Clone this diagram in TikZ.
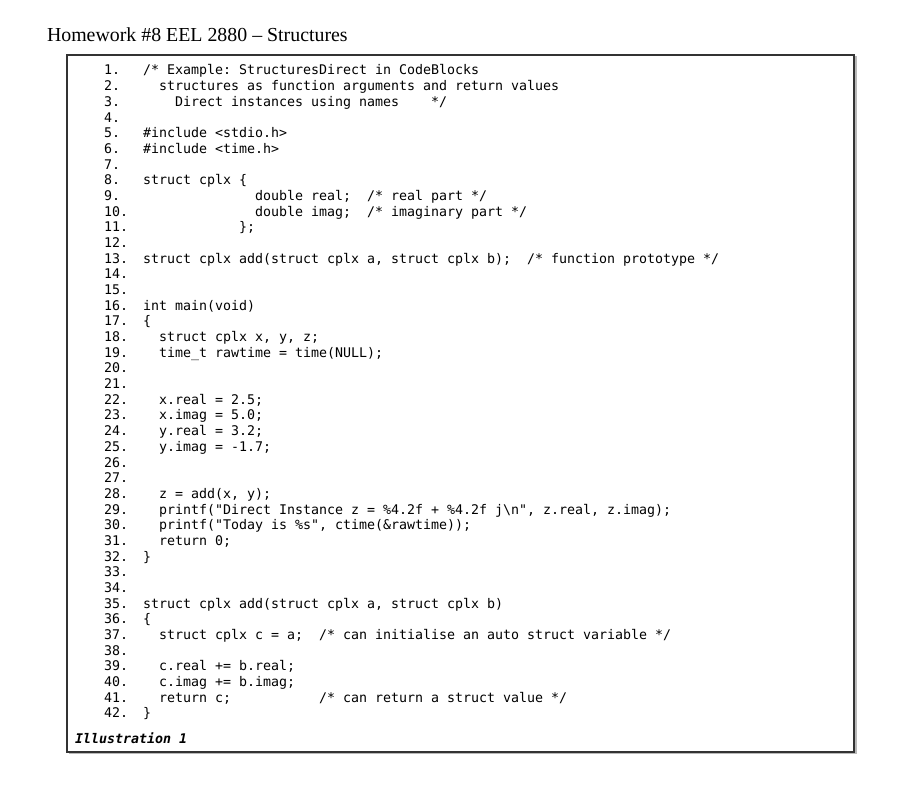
\documentclass[tikz,border=0pt]{standalone}
\usepackage{fontspec}
\setmainfont{Liberation Serif}
\setmonofont{DejaVu Sans Mono}
\usetikzlibrary{positioning}
\tikzset{
    x=0.75pt, y=-0.75pt, % one unit is one pixel of the page, y runs downwards
    every node/.style={inner sep=0pt, outer sep=0pt},
    codeFont/.style={font=\ttfamily\fontsize{9.97}{12}\selectfont},
}

\begin{document}
\begin{tikzpicture}[
                    lineNum/.style={codeFont, anchor=base west},
                    codeLine/.style={codeFont, anchor=base west},
                    titleText/.style={font=\fontsize{14.9}{17}\selectfont, anchor=base west},
                    boxLine/.style={draw=black!80, line width=1pt},
                ]
    \useasboundingbox (0,0) rectangle (910,791);
    \node[titleText] (title) at (47,42) {Homework \#8 EEL 2880 -- Structures};
    \draw[gray!55, line width=1pt] (856,56.5) -- (856,753.5) -- (68.5,753.5); % shadow
    \draw[boxLine, fill=white] (67,55) rectangle (854,752);
    \foreach \i in {1,...,42}
        \node[lineNum] (n\i) at (104, {75+(\i-1)*15.68}) {\i.};
    \node[codeLine] (c1) at (143,0 |- n1.base) {/* Example: StructuresDirect in CodeBlocks};
    \node[codeLine] (c2) at (159,0 |- n2.base) {structures as function arguments and return values};
    \node[codeLine] (c3) at (175,0 |- n3.base) {Direct instances using names};
    \node[codeLine] (k3) at (431,0 |- n3.base) {*/};
    \node[codeLine] (c5) at (143,0 |- n5.base) {\#include <stdio.h>};
    \node[codeLine] (c6) at (143,0 |- n6.base) {\#include <time.h>};
    \node[codeLine] (c8) at (143,0 |- n8.base) {struct cplx \{};
    \node[codeLine] (c9) at (255,0 |- n9.base) {double real;};
    \node[codeLine] (k9) at (367,0 |- n9.base) {/* real part */};
    \node[codeLine] (c10) at (255,0 |- n10.base) {double imag;};
    \node[codeLine] (k10) at (367,0 |- n10.base) {/* imaginary part */};
    \node[codeLine] (c11) at (239,0 |- n11.base) {\};};
    \node[codeLine] (c13) at (143,0 |- n13.base) {struct cplx add(struct cplx a, struct cplx b);};
    \node[codeLine] (k13) at (527,0 |- n13.base) {/* function prototype */};
    \node[codeLine] (c16) at (143,0 |- n16.base) {int main(void)};
    \node[codeLine] (c17) at (143,0 |- n17.base) {\{};
    \node[codeLine] (c18) at (159,0 |- n18.base) {struct cplx x, y, z;};
    \node[codeLine] (c19) at (159,0 |- n19.base) {time\_t rawtime = time(NULL);};
    \node[codeLine] (c22) at (159,0 |- n22.base) {x.real = 2.5;};
    \node[codeLine] (c23) at (159,0 |- n23.base) {x.imag = 5.0;};
    \node[codeLine] (c24) at (159,0 |- n24.base) {y.real = 3.2;};
    \node[codeLine] (c25) at (159,0 |- n25.base) {y.imag = -1.7;};
    \node[codeLine] (c28) at (159,0 |- n28.base) {z = add(x, y);};
    \node[codeLine] (c29) at (159,0 |- n29.base) {printf("Direct Instance z = \%4.2f + \%4.2f j\textbackslash n", z.real, z.imag);};
    \node[codeLine] (c30) at (159,0 |- n30.base) {printf("Today is \%s", ctime(\&rawtime));};
    \node[codeLine] (c31) at (159,0 |- n31.base) {return 0;};
    \node[codeLine] (c32) at (143,0 |- n32.base) {\}};
    \node[codeLine] (c35) at (143,0 |- n35.base) {struct cplx add(struct cplx a, struct cplx b)};
    \node[codeLine] (c36) at (143,0 |- n36.base) {\{};
    \node[codeLine] (c37) at (159,0 |- n37.base) {struct cplx c = a;};
    \node[codeLine] (k37) at (319,0 |- n37.base) {/* can initialise an auto struct variable */};
    \node[codeLine] (c39) at (159,0 |- n39.base) {c.real += b.real;};
    \node[codeLine] (c40) at (159,0 |- n40.base) {c.imag += b.imag;};
    \node[codeLine] (c41) at (159,0 |- n41.base) {return c;};
    \node[codeLine] (k41) at (319,0 |- n41.base) {/* can return a struct value */};
    \node[codeLine] (c42) at (143,0 |- n42.base) {\}};
    \node[codeLine, font=\ttfamily\bfseries\itshape\fontsize{9.97}{12}\selectfont] (caption) at (75,743) {Illustration 1};
\end{tikzpicture}
\end{document}
